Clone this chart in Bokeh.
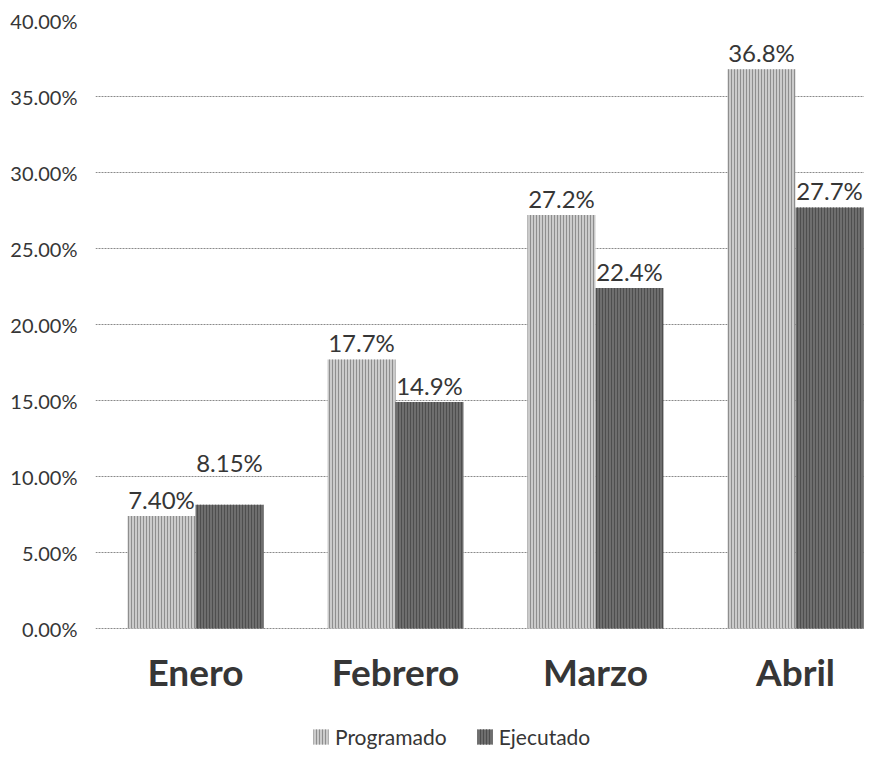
from bokeh.plotting import figure
from bokeh.models import (ColumnDataSource, Range1d, FixedTicker, PrintfTickFormatter,
                          Legend, LegendItem)
from bokeh.core.properties import value
from bokeh.embed import file_html
from bokeh.resources import INLINE

# ---- data ----
months = ["Enero", "Febrero", "Marzo", "Abril"]
programado = [7.40, 17.7, 27.2, 36.8]
ejecutado = [8.15, 14.9, 22.4, 27.7]
programado_labels = ["7.40%", "17.7%", "27.2%", "36.8%"]
ejecutado_labels = ["8.15%", "14.9%", "22.4%", "27.7%"]
y_ticks = [0, 5, 10, 15, 20, 25, 30, 35, 40]

centers = [i + 0.5 for i in range(len(months))]
bw = 0.34

prog_src = ColumnDataSource(dict(
    x=[c - bw / 2 for c in centers], top=programado, text=programado_labels,
    yoff=[-2, -2, -2, -2]))
ejec_src = ColumnDataSource(dict(
    x=[c + bw / 2 for c in centers], top=ejecutado, text=ejecutado_labels,
    yoff=[-28, -2, -2, -2]))
month_src = ColumnDataSource(dict(x=centers, y=[0] * len(centers), text=months))

FONT = "Lato"
TXT = "#363636"

p = figure(width=864, height=749, x_range=Range1d(0, 3.845), y_range=Range1d(-7.96, 40),
           output_backend="svg", toolbar_location=None,
           min_border_left=95, min_border_top=20, min_border_right=0, min_border_bottom=0)
p.outline_line_color = None
p.background_fill_color = "white"
p.border_fill_color = "white"

r_prog = p.vbar(x="x", top="top", width=bw, source=prog_src,
                fill_color="#cbcbcb", line_color=None,
                hatch_pattern="|", hatch_color="#8e8e8e", hatch_scale=3, hatch_weight=1)
r_ejec = p.vbar(x="x", top="top", width=bw, source=ejec_src,
                fill_color="#6e6e6e", line_color=None,
                hatch_pattern="|", hatch_color="#4e4e4e", hatch_scale=3, hatch_weight=1)

for src in (prog_src, ejec_src):
    p.text(x="x", y="top", text="text", source=src, y_offset="yoff",
           text_align="center", text_baseline="bottom",
           text_font=value(FONT), text_font_size="24px", text_color=TXT)

# month labels under each group
p.text(x="x", y="y", text="text", source=month_src, y_offset=43,
       text_align="center", text_baseline="middle",
       text_font=value(FONT), text_font_size="37px", text_font_style="bold",
       text_color=TXT)

# y axis
p.yaxis.ticker = FixedTicker(ticks=y_ticks)
p.yaxis.formatter = PrintfTickFormatter(format="%.2f%%")
p.yaxis.axis_line_color = None
p.yaxis.major_tick_line_color = None
p.yaxis.minor_tick_line_color = None
p.yaxis.major_label_standoff = 12
p.yaxis.major_label_text_font = FONT
p.yaxis.major_label_text_font_size = "20px"
p.yaxis.major_label_text_color = TXT

p.xaxis.visible = False
p.xgrid.grid_line_color = None
p.ygrid.ticker = FixedTicker(ticks=y_ticks)
p.ygrid.grid_line_color = "#8a8a8a"
p.ygrid.grid_line_dash = "2 1"
p.ygrid.grid_line_width = 1

legend = Legend(items=[LegendItem(label="Programado", renderers=[r_prog]),
                       LegendItem(label="Ejecutado", renderers=[r_ejec])],
                orientation="horizontal", location=(216, 0),
                border_line_color=None, background_fill_alpha=0,
                label_text_font=FONT, label_text_font_size="21px", label_text_color=TXT,
                glyph_width=19, glyph_height=19, spacing=28, padding=2, margin=0,
                label_standoff=5)
p.add_layout(legend)

open("out.html", "w").write(file_html(p, INLINE))
